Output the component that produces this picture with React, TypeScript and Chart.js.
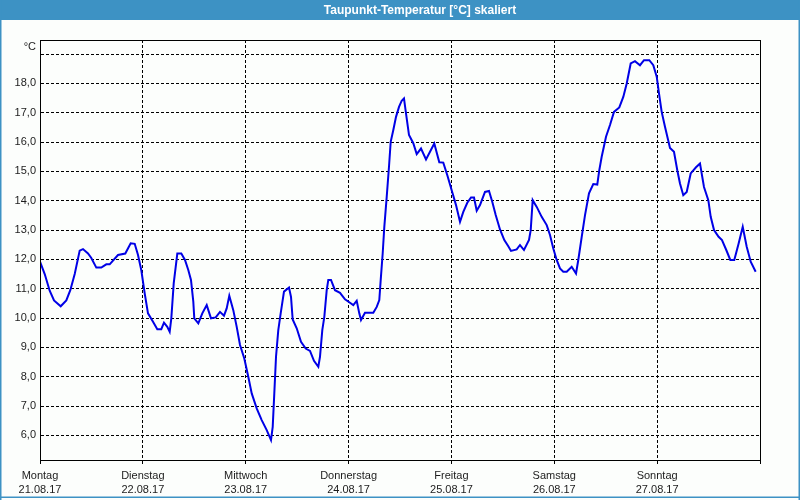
import React, { useEffect, useRef } from "react";
import { Chart, registerables } from "chart.js";

Chart.register(...registerables);

const titleText = "Taupunkt-Temperatur [°C] skaliert";
const unitLabel = "°C";

const dayNames = ["Montag", "Dienstag", "Mittwoch", "Donnerstag", "Freitag", "Samstag", "Sonntag"];
const dayDates = ["21.08.17", "22.08.17", "23.08.17", "24.08.17", "25.08.17", "26.08.17", "27.08.17"];

// hours since Monday 21.08.17 00:00
const hours = [
  0.0, 1.1, 2.26, 3.27, 4.83, 6.14, 7.07, 8.1, 9.26, 10.03, 11.2, 11.97, 13.14, 14.3, 15.47, 16.26,
  18.2, 19.9, 21.16, 22.1, 22.87, 23.64, 24.43, 25.2, 26.37, 27.37, 28.3, 28.93, 29.7, 30.26, 30.64,
  31.2, 32.04, 32.97, 33.83, 34.6, 35.23, 35.77, 36.0, 36.94, 37.87, 38.9, 39.9, 41.0, 42.0, 42.93,
  43.56, 44.17, 45.1, 45.9, 46.67, 47.67, 48.6, 49.4, 50.56, 51.73, 52.9, 53.9, 54.3, 54.67, 55.07,
  55.6, 56.16, 56.93, 58.1, 58.57, 58.96, 59.9, 60.9, 62.0, 63.0, 63.93, 64.94, 65.33, 65.87, 66.34,
  66.9, 67.27, 67.9, 68.83, 70.0, 71.17, 72.33, 73.1, 73.9, 74.5, 74.9, 75.83, 77.77, 78.57, 79.17,
  79.5, 79.96, 80.34, 80.9, 81.43, 81.83, 82.44, 83.07, 83.77, 84.4, 84.93, 85.4, 86.1, 87.1, 87.9,
  88.9, 90.07, 91.0, 92.0, 93.17, 94.1, 95.04, 96.06, 97.07, 98.0, 98.77, 99.7, 100.57, 101.27, 101.9,
  102.67, 103.83, 104.77, 105.54, 106.33, 107.33, 108.34, 109.27, 109.9, 111.23, 112.0, 112.93, 114.1,
  114.5, 114.96, 115.9, 117.06, 118.23, 119.0, 119.77, 120.56, 121.33, 122.1, 122.9, 124.06, 125.07,
  125.6, 126.4, 127.17, 128.1, 129.1, 130.03, 130.5, 131.06, 132.07, 133.0, 133.93, 135.17, 136.1,
  136.9, 137.83, 138.83, 140.0, 140.93, 142.17, 143.1, 143.9, 144.43, 145.06, 145.83, 147.0, 147.93,
  148.7, 149.33, 150.1, 150.9, 151.83, 153.07, 154.0, 154.93, 155.94, 156.5, 157.27, 158.34, 159.13,
  160.13, 161.07, 162.0, 163.03, 163.97, 164.9, 165.83, 166.99,
];

// dew point in °C
const dewPoint = [
  11.92, 11.5, 10.93, 10.6, 10.4, 10.6, 10.95, 11.5, 12.3, 12.35, 12.2, 12.05, 11.72, 11.72, 11.83, 11.83,
  12.15, 12.2, 12.55, 12.53, 12.15, 11.63, 10.84, 10.16, 9.87, 9.62, 9.62, 9.84, 9.7, 9.53, 9.99,
  11.18, 12.2, 12.2, 11.98, 11.64, 11.3, 10.56, 9.99, 9.82, 10.16, 10.44, 9.99, 10.02, 10.21, 10.08,
  10.33, 10.76, 10.27, 9.7, 9.08, 8.62, 8.0, 7.43, 6.92, 6.52, 6.18, 5.84, 6.29, 7.43, 8.68,
  9.59, 10.16, 10.9, 11.04, 10.72, 9.95, 9.65, 9.19, 8.96, 8.88, 8.54, 8.34, 8.68, 9.59, 10.04,
  10.95, 11.3, 11.3, 10.95, 10.86, 10.64, 10.52, 10.44, 10.59, 10.16, 9.93, 10.18, 10.18, 10.38, 10.61,
  11.3, 12.2, 13.11, 14.13, 15.16, 16.01, 16.41, 16.86, 17.2, 17.41, 17.49, 16.98, 16.24, 15.96, 15.59,
  15.78, 15.41, 15.67, 15.95, 15.31, 15.3, 14.87, 14.36, 13.85, 13.28, 13.62, 13.93, 14.11, 14.11, 13.66,
  13.85, 14.3, 14.33, 13.96, 13.51, 13.02, 12.66, 12.45, 12.29, 12.34, 12.49, 12.32, 12.66,
  13.0, 14.02, 13.79, 13.45, 13.17, 12.83, 12.37, 11.98, 11.69, 11.58, 11.58, 11.75, 11.52,
  11.98, 12.77, 13.51, 14.25, 14.57, 14.55, 15.04, 15.5, 16.18, 16.58, 17.03, 17.18, 17.54,
  18.0, 18.68, 18.76, 18.62, 18.79, 18.79, 18.62, 18.23, 17.66, 17.03, 16.52, 15.8, 15.67,
  15.04, 14.59, 14.19, 14.3, 14.93, 15.14, 15.27, 14.47, 14.02, 13.45, 13.0, 12.77, 12.66,
  12.32, 11.98, 11.98, 12.55, 13.11, 12.43, 11.92, 11.58,
];

const xMin = 0;
const xMax = 168;
const yMin = 5.16;
const yMax = 19.48;

const BLUE = "#3d92c4";
const BG = "#fcfefc";
const TICK_COLOR = "#1c1c1c";

const framePlugin = {
  id: "frame",
  beforeDraw(chart: any) {
    const { ctx, width, height } = chart;
    ctx.save();
    ctx.fillStyle = BG;
    ctx.fillRect(0, 0, width, height);
    ctx.fillStyle = BLUE;
    ctx.fillRect(0, 0, width, 20);
    ctx.fillRect(0, 0, 1.5, height);
    ctx.fillRect(width - 1.5, 0, 1.5, height);
    ctx.fillRect(0, 496.5, width, 1.5);
    ctx.fillStyle = "#ffffff";
    ctx.font = "bold 12px 'Liberation Sans', Arial, sans-serif";
    ctx.textAlign = "center";
    ctx.textBaseline = "middle";
    ctx.fillText(titleText, 420, 10.5);
    ctx.restore();
  },
  afterDraw(chart: any) {
    const { ctx, chartArea } = chart;
    ctx.save();
    ctx.strokeStyle = "#000";
    ctx.lineWidth = 1;
    ctx.setLineDash([]);
    ctx.strokeRect(
      Math.round(chartArea.left) + 0.5,
      Math.round(chartArea.top) + 0.5,
      Math.round(chartArea.right - chartArea.left),
      Math.round(chartArea.bottom - chartArea.top)
    );
    ctx.fillStyle = TICK_COLOR;
    ctx.font = "11px 'Liberation Sans', Arial, sans-serif";
    ctx.textAlign = "right";
    ctx.textBaseline = "middle";
    ctx.fillText(unitLabel, 36, 47);
    ctx.restore();
  },
};

export default function App() {
  const canvasRef = useRef<HTMLCanvasElement | null>(null);

  useEffect(() => {
    if (!canvasRef.current) return;
    const points = hours.map((h, i) => ({ x: h, y: dewPoint[i] }));
    const chart = new Chart(canvasRef.current, {
      type: "line",
      data: {
        datasets: [
          {
            data: points,
            borderColor: "#0000e6",
            borderWidth: 2,
            pointRadius: 0,
            tension: 0,
            fill: false,
          },
        ],
      },
      options: {
        animation: false,
        responsive: false,
        maintainAspectRatio: false,
        layout: { padding: { top: 40, right: 40, left: 0, bottom: 0 } },
        plugins: {
          legend: { display: false },
          title: { display: false },
          tooltip: { enabled: false },
        },
        scales: {
          x: {
            type: "linear",
            min: xMin,
            max: xMax,
            afterFit(scale: any) {
              scale.height = 40;
              scale.paddingLeft = 0;
              scale.paddingRight = 0;
            },
            grid: {
              color: "#000",
              lineWidth: 1,
              drawTicks: true,
              tickLength: 4,
              tickColor: "#000",
              tickBorderDash: [3, 2],
            },
            border: { display: true, color: "#000", width: 1, dash: [3, 2] },
            ticks: {
              stepSize: 24,
              autoSkip: false,
              maxRotation: 0,
              minRotation: 0,
              padding: 5,
              color: TICK_COLOR,
              font: { family: "'Liberation Sans', Arial, sans-serif", size: 11, lineHeight: 1.25 },
              callback: (v: any) => {
                const i = Math.round(Number(v) / 24);
                return i < dayNames.length ? [dayNames[i], dayDates[i]] : "";
              },
            },
          },
          y: {
            type: "linear",
            min: yMin,
            max: yMax,
            afterFit(scale: any) {
              scale.width = 40;
            },
            grid: {
              color: "#000",
              lineWidth: 1,
              drawTicks: false,
            },
            border: { display: true, color: "#000", width: 1, dash: [3, 2] },
            ticks: {
              stepSize: 1,
              includeBounds: false,
              padding: 4,
              color: TICK_COLOR,
              font: { family: "'Liberation Sans', Arial, sans-serif", size: 11 },
              callback: (v: any) => {
                const n = Number(v);
                if (Math.abs(n - 19) < 1e-6) return "";
                return n.toFixed(1).replace(".", ",");
              },
            },
          },
        },
      },
      plugins: [framePlugin],
    } as any);
    return () => chart.destroy();
  }, []);

  return (
    <div style={{ position: "absolute", left: 0, top: 0, width: 800, height: 500 }}>
      <canvas ref={canvasRef} width={800} height={500} style={{ display: "block", width: 800, height: 500 }} />
    </div>
  );
}
